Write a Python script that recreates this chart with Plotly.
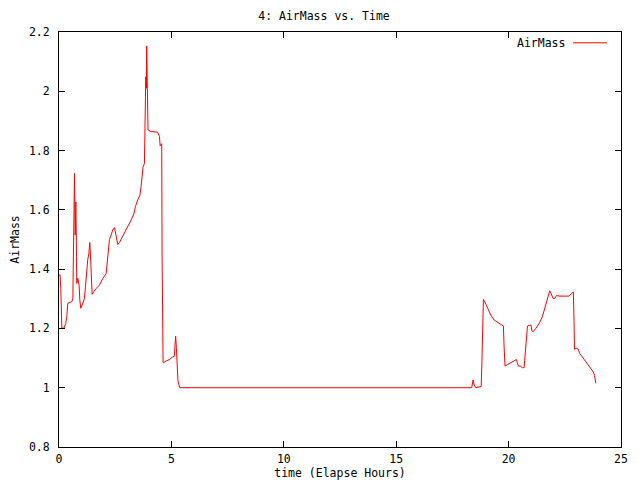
import plotly.graph_objects as go

hours = [0.0, 0.05, 0.08, 0.097, 0.126, 0.215, 0.30, 0.348, 0.363, 0.39, 0.496, 0.57, 0.615, 0.66, 0.69, 0.72, 0.75, 0.78, 0.79,
         0.837, 0.867, 0.896, 0.926, 0.97, 1.015, 1.07, 1.13, 1.177, 1.22, 1.28, 1.326, 1.34, 1.37, 1.40, 1.43, 1.474,
         1.548, 1.65, 1.8, 1.95, 2.096, 2.14, 2.2, 2.244, 2.32, 2.39, 2.47, 2.51, 2.556, 2.615, 2.69, 2.76, 2.91, 3.06,
         3.21, 3.33, 3.4, 3.5, 3.6, 3.65, 3.70, 3.74, 3.8, 3.83, 3.86, 3.89, 3.90, 3.93, 3.96, 4.096, 4.39, 4.47, 4.50,
         4.54, 4.57, 4.585, 4.63, 4.76, 4.91, 5.06, 5.13, 5.16, 5.19, 5.22, 5.25, 5.29, 5.34, 5.37,
         18.36, 18.42, 18.47, 18.54, 18.64, 18.78, 18.81, 18.85, 18.88, 18.94, 19.06, 19.21, 19.36, 19.58, 19.77, 19.80,
         19.84, 19.95, 20.1, 20.24, 20.35, 20.39, 20.44, 20.54, 20.61, 20.69, 20.73, 20.78, 20.84, 20.94, 21.0, 21.03,
         21.09, 21.21, 21.36, 21.5, 21.58, 21.65, 21.73, 21.83, 21.89, 21.98, 22.05, 22.13, 22.25, 22.54, 22.69, 22.8,
         22.88, 22.91, 22.93, 23.02, 23.1, 23.16, 23.28, 23.43, 23.58, 23.7, 23.77, 23.82, 23.85, 23.88]

airmass = [1.38, 1.38, 1.335, 1.251, 1.202, 1.20, 1.217, 1.24, 1.27, 1.285, 1.288, 1.29, 1.30, 1.515, 1.723, 1.515, 1.627,
           1.442, 1.352, 1.369, 1.352, 1.346, 1.296, 1.268, 1.276, 1.288, 1.30, 1.34, 1.395, 1.433, 1.451, 1.47, 1.490,
           1.448, 1.361, 1.315, 1.324, 1.335, 1.346, 1.369, 1.384, 1.414, 1.467, 1.50, 1.515, 1.532, 1.54, 1.526, 1.498,
           1.483, 1.49, 1.50, 1.52, 1.543, 1.566, 1.586, 1.611, 1.633, 1.65, 1.678, 1.717, 1.745, 1.756, 1.856, 2.049,
           2.01, 2.153, 2.01, 1.87, 1.864, 1.862, 1.847, 1.816, 1.82, 1.823, 1.448, 1.084, 1.09, 1.095, 1.104, 1.106,
           1.143, 1.174, 1.136, 1.065, 1.025, 1.009, 1.0,
           1.0, 1.026, 1.009, 1.0, 1.002, 1.004, 1.077, 1.226, 1.298, 1.29, 1.267, 1.245, 1.228, 1.217, 1.208, 1.138,
           1.073, 1.078, 1.085, 1.09, 1.095, 1.084, 1.073, 1.073, 1.067, 1.068, 1.102, 1.17, 1.208, 1.211, 1.211, 1.192,
           1.189, 1.2, 1.217, 1.239, 1.262, 1.284, 1.298, 1.327, 1.318, 1.301, 1.301, 1.311, 1.309, 1.309, 1.309, 1.318,
           1.323, 1.226, 1.13, 1.133, 1.13, 1.116, 1.104, 1.09, 1.076, 1.063, 1.053, 1.042, 1.026, 1.015]

x_ticks = [0, 5, 10, 15, 20, 25]
y_ticks = [0.8, 1.0, 1.2, 1.4, 1.6, 1.8, 2.0, 2.2]
y_tick_labels = ["0.8", "1", "1.2", "1.4", "1.6", "1.8", "2", "2.2"]

FONT = "DejaVu Sans Mono"
FS = 11.5

fig = go.Figure()
fig.add_trace(go.Scatter(x=hours, y=airmass, mode="lines", name="AirMass",
                         line=dict(color="#ff0000", width=1), showlegend=False))

axis_common = dict(showgrid=False, zeroline=False, showline=True, linecolor="black", linewidth=1,
                   mirror="ticks", ticks="inside", ticklen=6, tickcolor="black", tickwidth=1,
                   automargin=False,
                   tickfont=dict(family=FONT, size=FS, color="black"))

fig.update_xaxes(range=[0, 25], tickvals=x_ticks, ticktext=[str(v) for v in x_ticks], ticklabelstandoff=1,
                 title=dict(text="time (Elapse Hours)", font=dict(family=FONT, size=FS, color="black"), standoff=2),
                 **axis_common)
fig.update_yaxes(range=[0.8, 2.2], tickvals=y_ticks, ticktext=y_tick_labels, ticklabelstandoff=6,
                 title=dict(text="AirMass", font=dict(family=FONT, size=FS, color="black"), standoff=18),
                 **axis_common)

# gnuplot-style key: text followed by line sample
fig.add_annotation(x=0.9004, y=0.974, xref="paper", yref="paper", text="AirMass", showarrow=False,
                   xanchor="right", yanchor="middle", xshift=2, font=dict(family=FONT, size=FS, color="black"))
fig.add_shape(type="line", xref="paper", yref="paper", x0=0.9146, x1=0.975, y0=0.974, y1=0.974,
              line=dict(color="#ff0000", width=1))

# page body has an 8px margin, so the figure is 8px smaller and margins shifted
fig.update_layout(
    width=632, height=472,
    paper_bgcolor="white", plot_bgcolor="white",
    margin=dict(l=51, r=19, t=24, b=33, pad=0),
    title=dict(text="4: AirMass vs. Time", x=0.5, xanchor="center", y=1 - 7.5 / 472, yanchor="middle",
               font=dict(family=FONT, size=FS, color="black")),
)

fig.write_html("out.html")
